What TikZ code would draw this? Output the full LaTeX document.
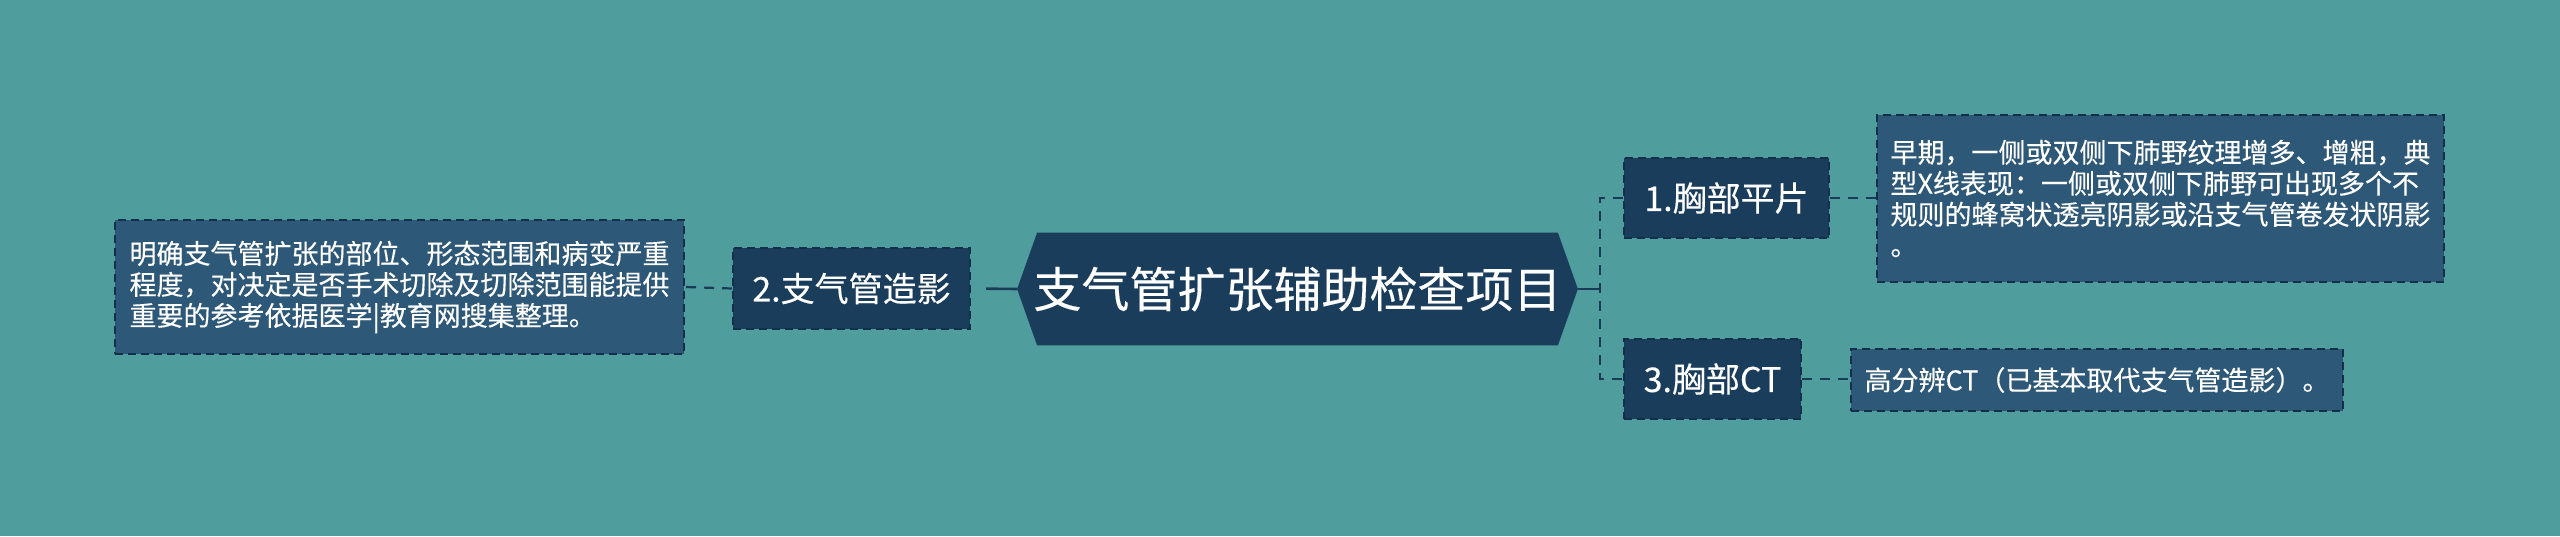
\documentclass[tikz,border=0pt]{standalone}
\usepackage{fontspec}
\setmainfont{Noto Sans CJK SC}[FakeBold=0.3]
\usetikzlibrary{backgrounds}
\definecolor{bg}{HTML}{4F9D9D}
\definecolor{navy}{HTML}{1B3D5C}
\definecolor{navyb}{HTML}{12304A}
\definecolor{slate}{HTML}{2D5877}
\definecolor{lineC}{HTML}{1A3B58}
\begin{document}
\begin{tikzpicture}[x=0.5pt,y=-0.5pt,
  topic/.style={fill=navy, draw=navyb, line width=1pt, dash pattern=on 4pt off 2.5pt, text=white, font=\fontsize{17}{20}\selectfont, inner sep=0pt, align=center},
  note/.style={fill=slate, draw=navyb, line width=1pt, dash pattern=on 4pt off 2.5pt, text=white, font=\fontsize{13.5}{15.5}\selectfont, inner sep=0pt, align=left},
  dline/.style={draw=lineC, line width=1.1pt, dash pattern=on 5pt off 4pt},
  sline/.style={draw=lineC, line width=1.3pt}]
\useasboundingbox (0,0) rectangle (2560,536);

\node[minimum width=280pt, minimum height=56pt, inner sep=0pt, text=white, font=\fontsize{24}{28}\selectfont] (c) at (1297.5,289) {支气管扩张辅助检查项目};
\begin{scope}[on background layer]
  \fill[bg] (0,0) rectangle (2560,536);
  \fill[navy] (c.west) -- ([xshift=10pt]c.north west) -- ([xshift=-10pt]c.north east) -- (c.east) -- ([xshift=-10pt]c.south east) -- ([xshift=10pt]c.south west) -- cycle;
\end{scope}

\node[topic, minimum width=118.5pt, minimum height=40.5pt] (n2) at (851.5,288.5) {2.支气管造影};
\node[note, minimum width=284.5pt, minimum height=67pt] (l) at (399.5,287) {明确支气管扩张的部位、形态范围和病变严重\\程度，对决定是否手术切除及切除范围能提供\\重要的参考依据医学|教育网搜集整理。};

\node[topic, minimum width=102.5pt, minimum height=40pt] (n1) at (1726.5,198) {1.胸部平片};
\node[topic, minimum width=88.5pt, minimum height=40pt] (n3) at (1712.5,379) {3.胸部CT};

\node[note, minimum width=283.5pt, minimum height=83.5pt] (r1) at (2160.5,198.5) {早期，一侧或双侧下肺野纹理增多、增粗，典\\型X线表现：一侧或双侧下肺野可出现多个不\\规则的蜂窝状透亮阴影或沿支气管卷发状阴影\\。};
\node[note, minimum width=246pt, minimum height=31pt, align=center] (r3) at (2097,380) {高分辨CT（已基本取代支气管造影）。};

\draw[sline, shorten >=7.5pt] (c.west) -- (n2.east);
\draw[dline] (n2.west) -- (l.east);
\coordinate (j) at (1600,289);
\draw[sline] (c.east) -- (j);
\draw[dline] (n1.west) -- (n1.west -| j) -- (n3.west -| j) -- (n3.west);
\draw[dline] (n1.east) -- (n1.east -| r1.west);
\draw[dline] (n3.east) -- (n3.east -| r3.west);
\end{tikzpicture}
\end{document}
